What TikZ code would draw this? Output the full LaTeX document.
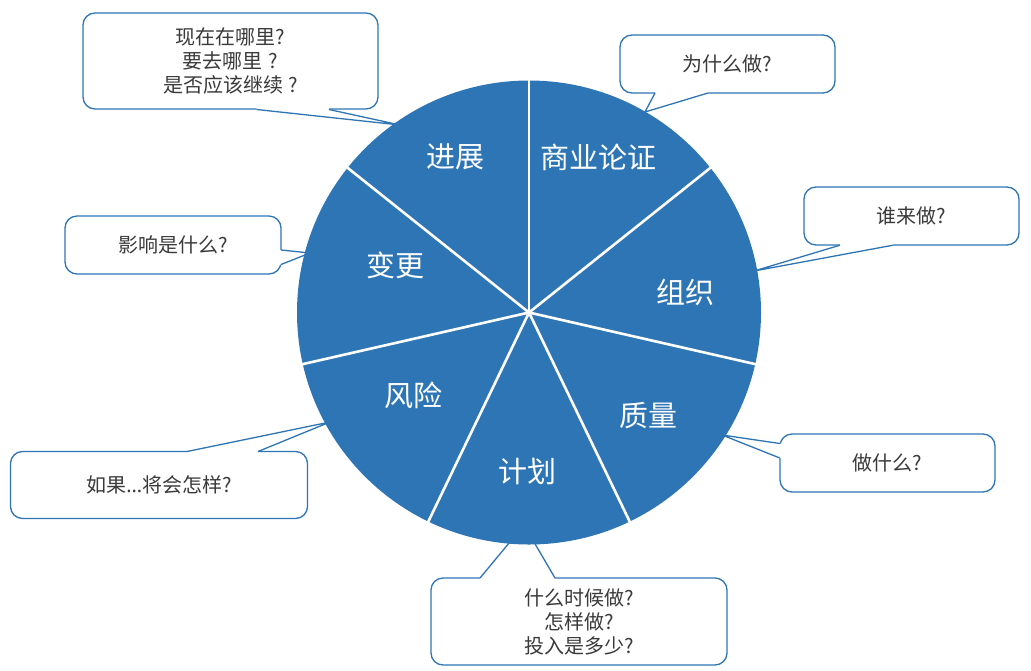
\documentclass[tikz,border=0pt]{standalone}
\usepackage{fontspec}
\newfontfamily\cjk{Noto Sans CJK SC}
\newfontfamily\lat{Noto Sans}
\definecolor{pieblue}{HTML}{2E75B6}
\definecolor{txtgray}{HTML}{3A3A3A}
\newcommand\mytail[5]{%
  \fill[white] (#4) -- (#1) -- (#2) -- (#3) -- (#5) -- cycle;
  \draw[tailline] (#1) -- (#2) -- (#3);}
\begin{document}
\begin{tikzpicture}[x=1pt,y=-1pt,
  bubble/.style={draw=pieblue, line width=1.3pt, fill=white, rounded corners=12pt,
    inner sep=0pt, font=\cjk\fontsize{20}{24}\selectfont, text=txtgray, align=center},
  tailline/.style={draw=pieblue, line width=1.3pt, line join=miter},
  sepline/.style={draw=white, line width=2.6pt},
  lbl/.style={text=white, font=\cjk\fontsize{29}{31}\selectfont}
]
\useasboundingbox (0,0) rectangle (1031,670);

% ---- callouts ----
\node[bubble, minimum width=295pt, minimum height=96pt] (c1) at (230.5,61) {现在在哪里?\\要去哪里\hspace{6pt}?\\是否应该继续\hspace{5pt}?};
\coordinate (c1a) at (256.7,109.5); \coordinate (c1b) at (329,109.5); \coordinate (c1t) at (400,125);
\coordinate (c1ai) at (256.7,106); \coordinate (c1bi) at (329,106);
\mytail{c1a}{c1t}{c1b}{c1ai}{c1bi}

\node[bubble, minimum width=215pt, minimum height=58pt] (c2) at (727.5,64) {为什么做?};
\coordinate (c2a) at (655,93); \coordinate (c2b) at (708,93); \coordinate (c2t) at (645,112);
\coordinate (c2ai) at (655,90); \coordinate (c2bi) at (708,90);
\mytail{c2a}{c2t}{c2b}{c2ai}{c2bi}

\node[bubble, minimum width=215pt, minimum height=58pt] (c3) at (911.5,216) {谁来做?};
\coordinate (c3a) at (840,245.2); \coordinate (c3b) at (893,245.2); \coordinate (c3t) at (754,271);
\coordinate (c3ai) at (840,242); \coordinate (c3bi) at (893,242);
\mytail{c3a}{c3t}{c3b}{c3ai}{c3bi}

\node[bubble, minimum width=215pt, minimum height=58pt] (c4) at (887.5,463) {做什么?};
\coordinate (c4a) at (779.8,443.5); \coordinate (c4b) at (779.8,458); \coordinate (c4t) at (722,435);
\coordinate (c4ai) at (783,443.5); \coordinate (c4bi) at (783,458);
\mytail{c4a}{c4t}{c4b}{c4ai}{c4bi}

\node[bubble, minimum width=297pt, minimum height=67pt] (c5) at (159,485) {如果{\lat …}将会怎样?};
\coordinate (c5a) at (187,451.5); \coordinate (c5b) at (258,451.5); \coordinate (c5t) at (330,422);
\coordinate (c5ai) at (187,455); \coordinate (c5bi) at (258,455);
\mytail{c5a}{c5t}{c5b}{c5ai}{c5bi}

\node[bubble, minimum width=216pt, minimum height=58pt] (c6) at (173,245) {影响是什么?};
\coordinate (c6a) at (281,250); \coordinate (c6b) at (281,264.5); \coordinate (c6t) at (310,253);
\coordinate (c6ai) at (277.5,250); \coordinate (c6bi) at (277.5,264.5);
\mytail{c6a}{c6t}{c6b}{c6ai}{c6bi}

\node[bubble, minimum width=296pt, minimum height=87pt] (c7) at (579,621.5) {什么时候做?\\怎样做?\\投入是多少?};
\coordinate (c7a) at (480,578); \coordinate (c7b) at (555,578); \coordinate (c7t) at (524,525);
\coordinate (c7ai) at (480,581.5); \coordinate (c7bi) at (555,581.5);
\mytail{c7a}{c7t}{c7b}{c7ai}{c7bi}

% ---- pie ----
\coordinate (O) at (529,312.5);
\fill[pieblue] (O) circle[radius=232pt];
\foreach \a in {90,38.5714,-12.8571,-64.2857,-115.7143,-167.1429,141.4286}
  \draw[sepline] (O) -- ++(\a:233pt);

\node[lbl] (s1) at (598,157) {商业论证};
\node[lbl] (s2) at (685,292) {组织};
\node[lbl] (s3) at (648,416) {质量};
\node[lbl] (s4) at (527,471) {计划};
\node[lbl] (s5) at (413,395) {风险};
\node[lbl] (s6) at (395,265) {变更};
\node[lbl] (s7) at (455,157) {进展};
\end{tikzpicture}
\end{document}
